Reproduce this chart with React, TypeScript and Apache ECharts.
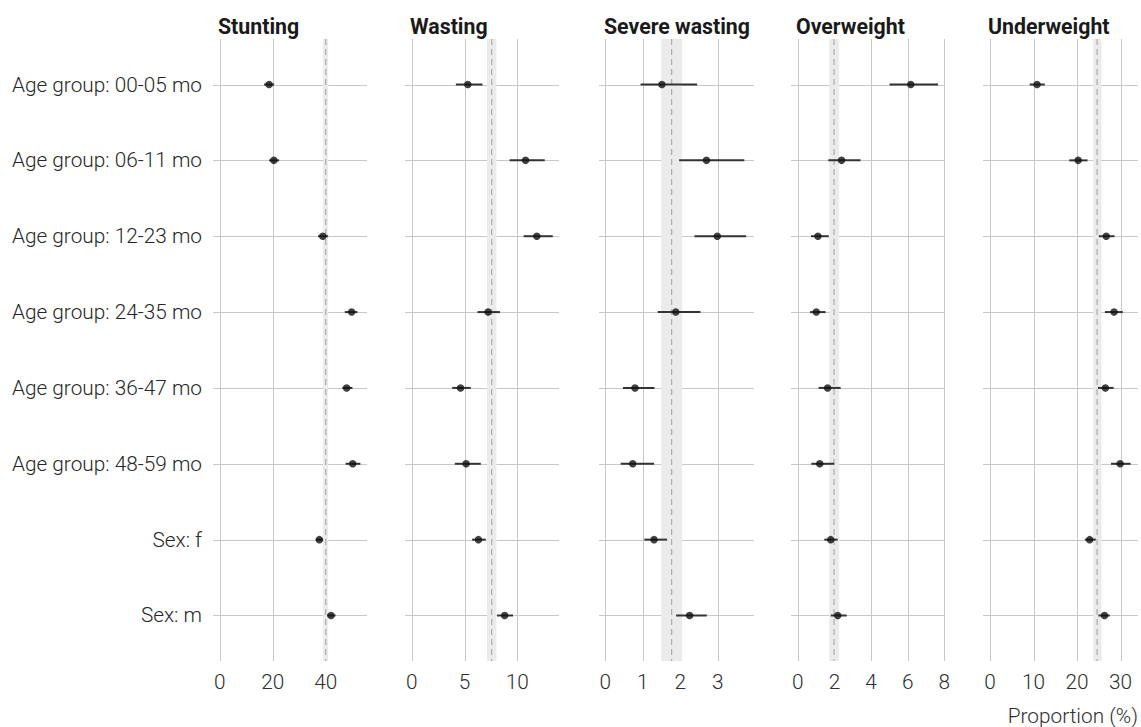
import React, { useEffect, useRef } from "react";
import * as echarts from "echarts";

const categories = [
  "Age group: 00-05 mo",
  "Age group: 06-11 mo",
  "Age group: 12-23 mo",
  "Age group: 24-35 mo",
  "Age group: 36-47 mo",
  "Age group: 48-59 mo",
  "Sex: f",
  "Sex: m",
];

const panelTitles = ["Stunting", "Wasting", "Severe wasting", "Overweight", "Underweight"];

const stuntingEst = [18.6, 20.4, 38.9, 49.8, 47.9, 50.2, 37.6, 42.0];
const stuntingLow = [16.7, 18.6, 37.1, 47.2, 46.3, 47.5, 36.2, 40.5];
const stuntingHigh = [20.5, 22.4, 40.9, 52.0, 50.1, 53.1, 39.0, 43.7];

const wastingEst = [5.31, 10.78, 11.85, 7.23, 4.62, 5.15, 6.32, 8.8];
const wastingLow = [4.18, 9.27, 10.6, 6.23, 3.83, 4.08, 5.72, 8.08];
const wastingHigh = [6.7, 12.6, 13.36, 8.36, 5.59, 6.54, 7.01, 9.59];

const severeEst = [1.51, 2.7, 2.99, 1.88, 0.79, 0.73, 1.3, 2.25];
const severeLow = [0.94, 1.97, 2.38, 1.4, 0.47, 0.41, 1.04, 1.89];
const severeHigh = [2.45, 3.71, 3.76, 2.54, 1.31, 1.3, 1.65, 2.71];

const overweightEst = [6.17, 2.39, 1.1, 1.01, 1.63, 1.2, 1.8, 2.18];
const overweightLow = [5.01, 1.67, 0.72, 0.67, 1.14, 0.74, 1.45, 1.8];
const overweightHigh = [7.66, 3.43, 1.69, 1.52, 2.34, 1.99, 2.18, 2.67];

const underweightEst = [10.8, 20.25, 26.7, 28.5, 26.5, 29.9, 22.9, 26.3];
const underweightLow = [9.13, 18.2, 25.0, 26.4, 24.8, 27.8, 21.8, 24.9];
const underweightHigh = [12.58, 22.4, 28.6, 30.5, 28.4, 32.3, 24.3, 27.5];

// overall (reference) proportion and its interval per indicator
const refValue = [40.0, 7.57, 1.77, 1.98, 24.6];
const refLow = [39.0, 7.13, 1.49, 1.72, 23.7];
const refHigh = [40.9, 8.02, 2.05, 2.26, 25.6];

const tickValues = [
  [0, 20, 40],
  [0, 5, 10],
  [0, 1, 2, 3],
  [0, 2, 4, 6, 8],
  [0, 10, 20, 30],
];

const axisLabel = "Proportion (%)";

const estimates = [stuntingEst, wastingEst, severeEst, overweightEst, underweightEst];
const lows = [stuntingLow, wastingLow, severeLow, overweightLow, underweightLow];
const highs = [stuntingHigh, wastingHigh, severeHigh, overweightHigh, underweightHigh];

// layout
const panelLeft = [213, 405, 599, 791, 983];
const panelWidth = [154, 154, 155, 154, 155];
const axisMin = [-2.6, -0.64, -0.17, -0.37, -1.61];
const axisMax = [55.6, 13.95, 3.97, 8.04, 34.0];
const TOP = 39;
const BOTTOM = 66;
const FONT = "Roboto, 'Noto Sans', sans-serif";
const LABEL_SIZE = 20.8;
const LABEL_WEIGHT = 300;

function buildOption() {
  const grid: any[] = [];
  const xAxis: any[] = [];
  const yAxis: any[] = [];
  const series: any[] = [];
  const title: any[] = [];
  const rowIdx = categories.map((_, i) => i);

  panelTitles.forEach((name, p) => {
    grid.push({ left: panelLeft[p], width: panelWidth[p], top: TOP, bottom: BOTTOM, containLabel: false });
    title.push({
      text: name,
      left: panelLeft[p] + 5,
      top: 16,
      padding: 0,
      textStyle: { fontSize: 21.3, fontWeight: "bold", color: "#1a1a1a", fontFamily: FONT },
    });
    xAxis.push({
      type: "value",
      gridIndex: p,
      min: axisMin[p],
      max: axisMax[p],
      axisLine: { show: false },
      axisTick: { show: false },
      splitLine: { show: false },
      axisLabel: {
        customValues: tickValues[p],
        fontSize: LABEL_SIZE,
        fontWeight: LABEL_WEIGHT,
        color: "#2e2e2e",
        fontFamily: FONT,
        margin: 10,
      },
    });
    yAxis.push({
      type: "value",
      gridIndex: p,
      min: -0.6,
      max: 7.6,
      inverse: true,
      axisLine: { show: false },
      axisTick: { show: false },
      splitLine: { show: false },
      axisLabel:
        p === 0
          ? {
              show: true,
              customValues: rowIdx,
              formatter: (v: number) => categories[Math.round(v)] ?? "",
              fontSize: LABEL_SIZE,
              fontWeight: LABEL_WEIGHT,
              color: "#262626",
              fontFamily: FONT,
              margin: 11,
            }
          : { show: false },
    });

    // vertical grid lines
    series.push({
      type: "custom",
      xAxisIndex: p,
      yAxisIndex: p,
      z: 1,
      silent: true,
      data: tickValues[p].map((v) => [v, 0]),
      renderItem: (params: any, api: any) => {
        const cs = params.coordSys;
        const pt = api.coord([api.value(0), 0]);
        return {
          type: "line",
          shape: { x1: Math.round(pt[0]) + 0.5, y1: cs.y, x2: Math.round(pt[0]) + 0.5, y2: cs.y + cs.height },
          style: { stroke: "#c8c8c8", lineWidth: 1 },
        };
      },
    });
    // horizontal grid lines
    series.push({
      type: "custom",
      xAxisIndex: p,
      yAxisIndex: p,
      z: 1,
      silent: true,
      data: rowIdx.map((i) => [0, i]),
      renderItem: (params: any, api: any) => {
        const cs = params.coordSys;
        const pt = api.coord([0, api.value(1)]);
        return {
          type: "line",
          shape: { x1: cs.x, y1: Math.round(pt[1]) + 0.5, x2: cs.x + cs.width, y2: Math.round(pt[1]) + 0.5 },
          style: { stroke: "#c8c8c8", lineWidth: 1 },
        };
      },
    });
    // reference band
    series.push({
      type: "custom",
      xAxisIndex: p,
      yAxisIndex: p,
      z: 2,
      silent: true,
      encode: { x: [0, 1], y: 2 },
      data: [[refLow[p], refHigh[p], 0]],
      renderItem: (params: any, api: any) => {
        const cs = params.coordSys;
        const a = api.coord([api.value(0), 0]);
        const b = api.coord([api.value(1), 0]);
        return {
          type: "rect",
          shape: { x: a[0], y: cs.y, width: b[0] - a[0], height: cs.height },
          style: { fill: "#ebebeb" },
        };
      },
    });
    // reference dashed line
    series.push({
      type: "custom",
      xAxisIndex: p,
      yAxisIndex: p,
      z: 3,
      silent: true,
      data: [[refValue[p], 0]],
      renderItem: (params: any, api: any) => {
        const cs = params.coordSys;
        const a = api.coord([api.value(0), 0]);
        return {
          type: "line",
          shape: { x1: a[0], y1: cs.y, x2: a[0], y2: cs.y + cs.height },
          style: { stroke: "#ababab", lineWidth: 1.2, lineDash: [6, 4] },
        };
      },
    });
    // error bars
    series.push({
      type: "custom",
      xAxisIndex: p,
      yAxisIndex: p,
      z: 4,
      silent: true,
      encode: { x: [0, 1], y: 2 },
      data: rowIdx.map((i) => [lows[p][i], highs[p][i], i]),
      renderItem: (params: any, api: any) => {
        const a = api.coord([api.value(0), api.value(2)]);
        const b = api.coord([api.value(1), api.value(2)]);
        return {
          type: "line",
          shape: { x1: a[0], y1: a[1], x2: b[0], y2: b[1] },
          style: { stroke: "#333333", lineWidth: 2 },
        };
      },
    });
    // point estimates
    series.push({
      type: "scatter",
      xAxisIndex: p,
      yAxisIndex: p,
      z: 5,
      symbol: "circle",
      symbolSize: 7.5,
      itemStyle: { color: "#111111" },
      data: rowIdx.map((i) => [estimates[p][i], i]),
    });
  });

  return {
    animation: false,
    backgroundColor: "#ffffff",
    textStyle: { fontFamily: FONT },
    title,
    grid,
    xAxis,
    yAxis,
    series,
    graphic: [
      {
        type: "text",
        right: 3,
        top: 705,
        style: { text: axisLabel, fontSize: LABEL_SIZE, fontWeight: LABEL_WEIGHT, fill: "#2e2e2e", fontFamily: FONT },
      },
    ],
  };
}

export default function App() {
  const ref = useRef<HTMLDivElement>(null);
  useEffect(() => {
    if (!ref.current) return;
    const chart = echarts.init(ref.current, undefined, { renderer: "svg" });
    chart.setOption(buildOption() as any);
    return () => chart.dispose();
  }, []);
  return (
    <div
      ref={ref}
      style={{ position: "absolute", left: 0, top: 0, width: 1141, height: 727, background: "#fff" }}
    />
  );
}
